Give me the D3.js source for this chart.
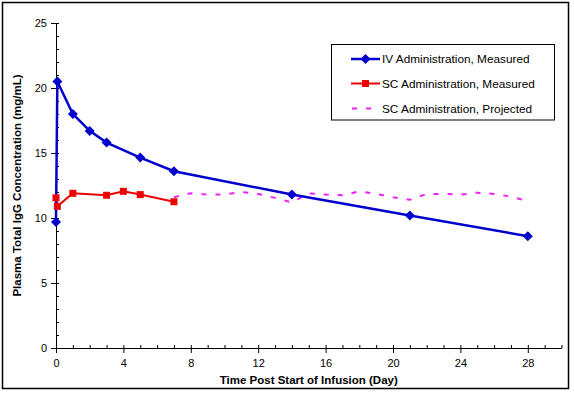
<!DOCTYPE html>
<html><head><meta charset="utf-8">
<script src="https://cdn.jsdelivr.net/npm/d3@7"></script>
<style>
html,body{margin:0;padding:0;background:#fff;}
svg{display:block;font-family:"Liberation Sans",Arial,sans-serif;}
</style></head>
<body>
<svg id="chart" width="574" height="393"></svg>
<script>
// ---- data ----
const ivDays   = [0, 0.08, 1, 2, 3, 5, 7, 14, 21, 28];
const ivValues = [9.7, 20.5, 18.0, 16.7, 15.8, 14.65, 13.6, 11.8, 10.2, 8.6];
const scDays   = [0, 0.08, 1, 3, 4, 5, 7];
const scValues = [11.55, 10.9, 11.9, 11.75, 12.05, 11.8, 11.25];
const projDays   = [7, 8, 9, 10, 11, 12, 13, 14, 15, 16, 17, 18, 19, 20, 21, 22, 23, 24, 25, 26, 27, 28];
const projValues = [11.6, 11.9, 11.8, 11.8, 12.0, 11.85, 11.55, 11.2, 11.9, 11.8, 11.75, 12.05, 11.85, 11.6, 11.4, 11.85, 11.85, 11.8, 11.95, 11.85, 11.65, 11.3];
const xTicks = [0, 4, 8, 12, 16, 20, 24, 28];
const yTicks = [0, 5, 10, 15, 20, 25];
const seriesNames = ["IV Administration, Measured", "SC Administration, Measured", "SC Administration, Projected"];
const xTitle = "Time Post Start of Infusion (Day)";
const yTitle = "Plasma Total IgG Concentration (mg/mL)";

// ---- layout ----
const svg = d3.select("#chart");
const blue = "#0000CC", red = "#EE0000", magenta = "#EE22EE";
const x = d3.scaleLinear().domain([0, 30]).range([56, 561.5]);
const y = d3.scaleLinear().domain([0, 25]).range([348, 23]);

// outer frame
svg.append("rect").attr("x", 2.5).attr("y", 2.5).attr("width", 566).attr("height", 386)
  .attr("fill", "none").attr("stroke", "#000").attr("stroke-width", 1.5);

// minor ticks (inside)
const gx = svg.append("g").attr("transform", `translate(0,${y(0)})`);
gx.call(d3.axisBottom(x).tickValues(d3.range(0, 31, 1)).tickSize(-3).tickFormat(""))
  .call(g => g.select(".domain").remove());
const gy = svg.append("g").attr("transform", `translate(${x(0)},0)`);
gy.call(d3.axisLeft(y).tickValues(d3.range(0, 26, 1)).tickSize(-3).tickFormat(""))
  .call(g => g.select(".domain").remove());

// major axes
const ax = svg.append("g").attr("transform", `translate(0,${y(0)})`)
  .call(d3.axisBottom(x).tickValues(xTicks).tickSizeInner(5).tickSizeOuter(0).tickPadding(6).tickFormat(d3.format("d")));
ax.selectAll("text").attr("font-size", 11).attr("fill", "#000").attr("font-family", "Liberation Sans, Arial, sans-serif");
const ay = svg.append("g").attr("transform", `translate(${x(0)},0)`)
  .call(d3.axisLeft(y).tickValues(yTicks).tickSizeInner(5).tickSizeOuter(0).tickPadding(4).tickFormat(d3.format("d")));
ay.selectAll("text").attr("font-size", 11).attr("fill", "#000").attr("font-family", "Liberation Sans, Arial, sans-serif");
svg.selectAll(".tick line").attr("stroke", "#000");
svg.selectAll(".domain").attr("stroke", "#000");

// axis titles
svg.append("text").attr("x", (x(0) + x(30)) / 2).attr("y", 384).attr("text-anchor", "middle")
  .attr("font-size", 11.5).attr("font-weight", "bold").text(xTitle);
svg.append("text").attr("transform", `translate(21,${(y(0) + y(25)) / 2}) rotate(-90)`)
  .attr("text-anchor", "middle").attr("font-size", 11.5).attr("font-weight", "bold").text(yTitle);

// lines
const line = d3.line().x(d => x(d[0])).y(d => y(d[1]));
const iv = ivDays.map((d, i) => [d, ivValues[i]]);
const sc = scDays.map((d, i) => [d, scValues[i]]);
const pj = projDays.map((d, i) => [d, projValues[i]]);

svg.append("path").datum(pj).attr("d", line).attr("fill", "none").attr("stroke", magenta)
  .attr("stroke-width", 2).attr("stroke-dasharray", "5,9");
svg.append("path").datum(sc).attr("d", line).attr("fill", "none").attr("stroke", red).attr("stroke-width", 2);
svg.append("path").datum(iv).attr("d", line).attr("fill", "none").attr("stroke", blue).attr("stroke-width", 2.5);

const diamond = "M0,-5L5,0L0,5L-5,0Z";
svg.append("g").selectAll("rect").data(sc).join("rect")
  .attr("x", d => x(d[0]) - 3.5).attr("y", d => y(d[1]) - 3.5).attr("width", 7).attr("height", 7).attr("fill", red);
svg.append("g").selectAll("path").data(iv).join("path")
  .attr("d", diamond).attr("transform", d => `translate(${x(d[0])},${y(d[1])})`).attr("fill", blue);

// legend
const lg = svg.append("g");
lg.append("rect").attr("x", 331.5).attr("y", 44.5).attr("width", 223).attr("height", 75.5)
  .attr("fill", "#fff").attr("stroke", "#000").attr("stroke-width", 1);
const rows = [59, 83.5, 108.5];
lg.append("line").attr("x1", 351).attr("x2", 380).attr("y1", rows[0]).attr("y2", rows[0]).attr("stroke", blue).attr("stroke-width", 2.5);
lg.append("path").attr("d", diamond).attr("transform", `translate(365.5,${rows[0]})`).attr("fill", blue);
lg.append("line").attr("x1", 351).attr("x2", 380).attr("y1", rows[1]).attr("y2", rows[1]).attr("stroke", red).attr("stroke-width", 2);
lg.append("rect").attr("x", 362).attr("y", rows[1] - 3.5).attr("width", 7).attr("height", 7).attr("fill", red);
lg.append("line").attr("x1", 352).attr("x2", 380).attr("y1", rows[2]).attr("y2", rows[2]).attr("stroke", magenta)
  .attr("stroke-width", 2).attr("stroke-dasharray", "5,9");
lg.selectAll("text.lt").data(seriesNames).join("text").attr("class", "lt")
  .attr("x", 382).attr("y", (d, i) => rows[i]).attr("dy", "0.35em").attr("font-size", 11.8).text(d => d);
</script>
</body></html>
